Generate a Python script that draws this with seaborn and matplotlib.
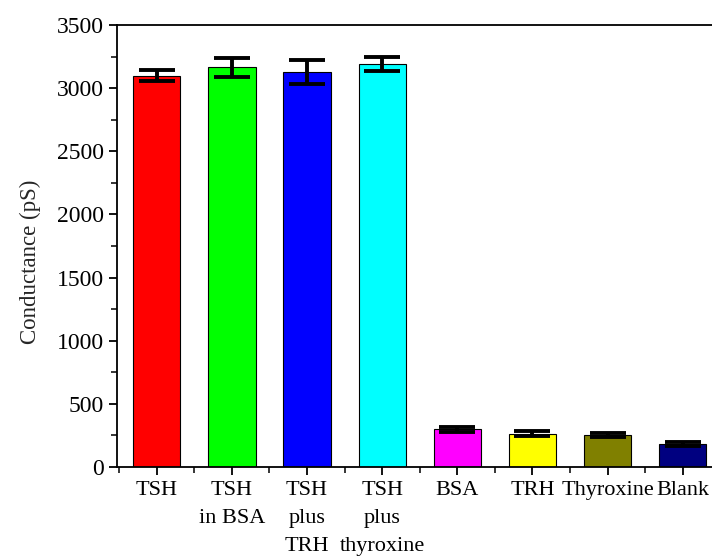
import numpy as np
import pandas as pd
import matplotlib
matplotlib.use("Agg")
import matplotlib.pyplot as plt
import seaborn as sns
from matplotlib.ticker import MultipleLocator, FixedLocator

# Data
labels = ["TSH", "TSH\nin BSA", "TSH\nplus\nTRH", "TSH\nplus\nthyroxine",
          "BSA", "TRH", "Thyroxine", "Blank"]
conductance = [3100, 3165, 3128, 3188, 300, 265, 253, 183]
errors = [45, 75, 97, 55, 20, 18, 16, 16]
colors = ["#FF0000", "#00FF00", "#0000FF", "#00FFFF",
          "#FF00FF", "#FFFF00", "#808000", "#000080"]

df = pd.DataFrame({"sample": labels, "conductance": conductance})

sns.set_style("ticks")
plt.rcParams["font.family"] = ["Liberation Serif", "DejaVu Serif"]

fig = plt.figure(figsize=(7.12, 5.56), dpi=100)
ax = fig.add_axes([0.1643, 0.160, 0.8357, 0.795])

sns.barplot(data=df, x="sample", y="conductance", hue="sample",
            palette=colors, saturation=1, legend=False, errorbar=None,
            width=0.63, edgecolor="black", linewidth=0.8, ax=ax)

ax.errorbar(np.arange(len(labels)), conductance, yerr=errors, fmt="none",
            ecolor="black", elinewidth=2.8, capsize=13, capthick=2.8, zorder=5)

ax.set_ylim(0, 3500)
ax.set_xlim(-0.53, 7.39)
ax.yaxis.set_major_locator(MultipleLocator(500))
ax.yaxis.set_minor_locator(MultipleLocator(250))
ax.xaxis.set_minor_locator(FixedLocator(np.arange(-0.5, 8, 1)))

ax.tick_params(axis="both", which="major", direction="out", length=6,
               width=1.3, colors="black")
ax.tick_params(axis="x", which="major", labelsize=16, pad=4)
ax.tick_params(axis="y", which="major", labelsize=17)
ax.tick_params(axis="both", which="minor", direction="out", length=4, width=1.3)
for t in ax.get_xticklabels():
    t.set_linespacing(1.65)
    t.set_verticalalignment("top")

ax.set_xlabel("")
ax.set_ylabel("Conductance (pS)", fontsize=16.5)
ax.yaxis.set_label_coords(-0.128, 0.464)

for side in ["left", "bottom", "top"]:
    ax.spines[side].set_linewidth(1.3)
    ax.spines[side].set_color("black")
ax.spines["right"].set_visible(False)

fig.savefig("out.png", dpi=100)
